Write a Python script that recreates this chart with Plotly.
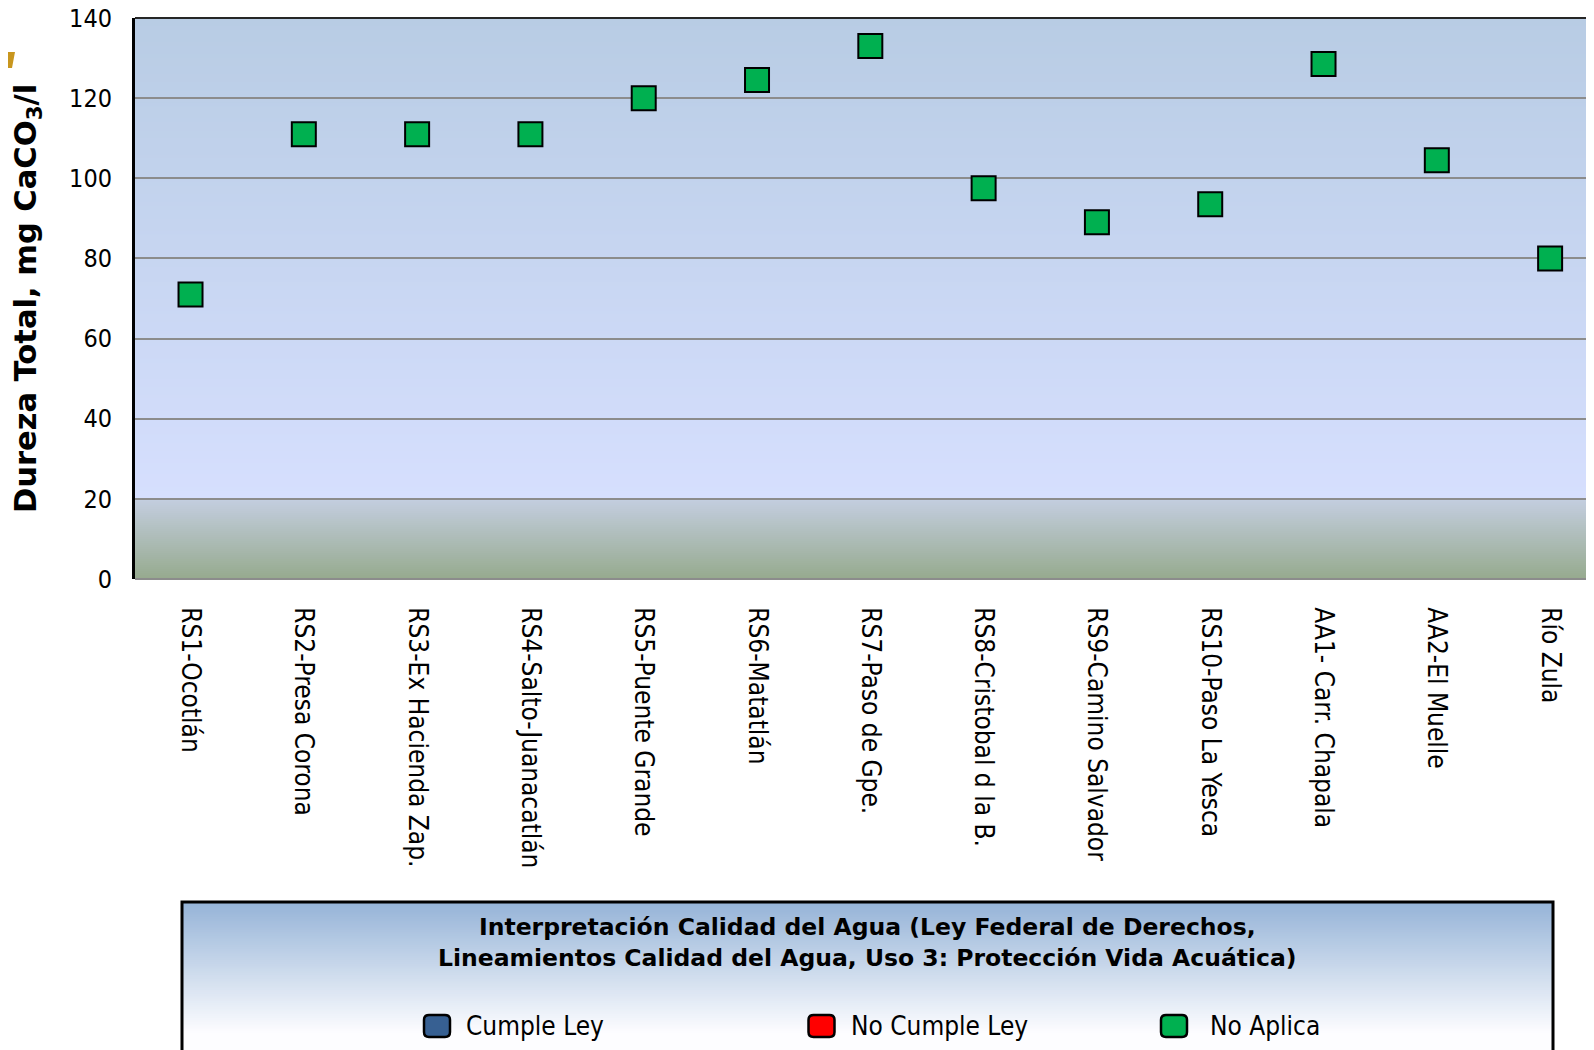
import plotly.graph_objects as go

categories = ["RS1-Ocotlán", "RS2-Presa Corona", "RS3-Ex Hacienda Zap.", "RS4-Salto-Juanacatlán",
              "RS5-Puente Grande", "RS6-Matatlán", "RS7-Paso de Gpe.", "RS8-Cristobal d la B.",
              "RS9-Camino Salvador", "RS10-Paso La Yesca", "AA1- Carr. Chapala", "AA2-El Muelle",
              "Río Zula"]
dureza = [71, 111, 111, 111, 120, 124.5, 133, 97.5, 89, 93.5, 128.5, 104.5, 80]
y_ticks = [0, 20, 40, 60, 80, 100, 120, 140]
legend_names = ["Cumple Ley", "No Cumple Ley", "No Aplica"]
legend_colors = ["#376092", "#ff0000", "#00b050"]

FONT = "DejaVu Sans Condensed, DejaVu Sans, sans-serif"
FONT_W = "DejaVu Sans, sans-serif"

W, H = 1586, 1042
L, T = 127, 10
bottom_px = 571
B = H - bottom_px
plot_h = bottom_px - T
plot_w = W - L
step_px = 113.3
x_lo = -0.49
x_hi = x_lo + plot_w / step_px


def py(fy):
    return (T + plot_h - fy) / plot_h


def px(fx):
    return (fx - L) / plot_w


def lerp(c1, c2, t):
    return tuple(round(a + (b - a) * t) for a, b in zip(c1, c2))


fig = go.Figure()
fig.add_trace(go.Scatter(x=categories, y=dureza, mode="markers", name="No Aplica",
                         showlegend=False,
                         marker=dict(symbol="square", size=24, color="#00b050",
                                     line=dict(color="black", width=2))))

shapes = []
# plot-area gradient
n1 = 120
top_c, mid_c = (184, 204, 228), (214, 223, 254)
d1 = 120 / n1
for i in range(n1):
    yt = 140 - i * d1
    yb = yt - d1
    c = lerp(top_c, mid_c, (i + 0.5) / n1)
    shapes.append(dict(type="rect", xref="paper", yref="y", x0=0, x1=1,
                       y0=max(20, yb - 0.4), y1=yt,
                       fillcolor="rgb(%d,%d,%d)" % c, line=dict(width=0), layer="below"))
n2 = 40
lo_top, lo_bot = (196, 206, 224), (150, 170, 142)
d2 = 20 / n2
for i in range(n2):
    yt = 20 - i * d2
    yb = yt - d2
    c = lerp(lo_top, lo_bot, (i + 0.5) / n2)
    shapes.append(dict(type="rect", xref="paper", yref="y", x0=0, x1=1,
                       y0=max(0, yb - 0.4), y1=yt,
                       fillcolor="rgb(%d,%d,%d)" % c, line=dict(width=0), layer="below"))

# top border of plot area
shapes.append(dict(type="line", xref="paper", yref="paper", x0=0, x1=1, y0=1, y1=1,
                   line=dict(color="#262626", width=2), layer="above"))

# partial gold logo at top-left edge
shapes.append(dict(type="path", xref="paper", yref="paper",
                   path="M %f %f L %f %f L %f %f L %f %f Z" % (px(-8), py(44), px(7), py(44),
                                                               px(4), py(60), px(-8), py(60)),
                   fillcolor="#c8961e", line=dict(width=0), layer="above"))

# interpretation box with gradient
bx0, bx1 = px(174), px(1545)
btop, bbot = 894, 1060
grad_end = 1025
ng = 70
for i in range(ng):
    p0 = btop + (grad_end - btop) * i / ng
    p1 = btop + (grad_end - btop) * (i + 1) / ng
    c = lerp((149, 179, 215), (253, 253, 255), (i + 0.5) / ng)
    shapes.append(dict(type="rect", xref="paper", yref="paper", x0=bx0, x1=bx1,
                       y0=py(p1 + 0.8), y1=py(p0), fillcolor="rgb(%d,%d,%d)" % c,
                       line=dict(width=0), layer="below"))
shapes.append(dict(type="rect", xref="paper", yref="paper", x0=bx0, x1=bx1,
                   y0=py(bbot), y1=py(grad_end), fillcolor="rgb(253,253,255)",
                   line=dict(width=0), layer="below"))
shapes.append(dict(type="rect", xref="paper", yref="paper", x0=bx0, x1=bx1,
                   y0=py(bbot), y1=py(btop), fillcolor="rgba(0,0,0,0)",
                   line=dict(color="black", width=3), layer="above"))


def rounded_rect(cx, cy, w, h, r):
    x0, x1, y0, y1 = cx - w / 2, cx + w / 2, cy - h / 2, cy + h / 2
    pts = [
        ("M", (x0 + r, y0)), ("L", (x1 - r, y0)), ("Q", (x1, y0, x1, y0 + r)),
        ("L", (x1, y1 - r)), ("Q", (x1, y1, x1 - r, y1)), ("L", (x0 + r, y1)),
        ("Q", (x0, y1, x0, y1 - r)), ("L", (x0, y0 + r)), ("Q", (x0, y0, x0 + r, y0)),
    ]
    parts = []
    for cmd, vals in pts:
        coords = []
        for k in range(0, len(vals), 2):
            coords.append("%f,%f" % (px(vals[k]), py(vals[k + 1])))
        parts.append(cmd + " " + " ".join(coords))
    return " ".join(parts) + " Z"


annotations = [
    dict(xref="paper", yref="paper", x=px(859), y=py(934.5), xanchor="center", yanchor="middle",
         text="<b>Interpretación Calidad del Agua (Ley Federal de Derechos,<br>"
              "Lineamientos Calidad del Agua, Uso 3: Protección Vida Acuática)</b>",
         showarrow=False, align="center", font=dict(family=FONT_W, size=23.5, color="black")),
]

leg_marker_x = [429, 813.5, 1166]
leg_text_x = [455.6, 841, 1200]
leg_y = 1018
for name, col, mx, tx in zip(legend_names, legend_colors, leg_marker_x, leg_text_x):
    shapes.append(dict(type="path", xref="paper", yref="paper", path=rounded_rect(mx, leg_y, 26, 22, 5),
                       fillcolor=col, line=dict(color="black", width=2.5), layer="above"))
    annotations.append(dict(xref="paper", yref="paper", x=px(tx), y=py(leg_y), xanchor="left",
                            yanchor="middle", text=name, showarrow=False,
                            font=dict(family=FONT, size=26, color="black")))

fig.update_layout(
    width=W, height=H,
    margin=dict(l=L, r=0, t=T, b=B, autoexpand=False),
    paper_bgcolor="white", plot_bgcolor="white",
    font=dict(family=FONT, size=25, color="black"),
    showlegend=False,
    shapes=shapes,
    annotations=annotations,
    xaxis=dict(type="category", categoryorder="array", categoryarray=categories,
               range=[x_lo, x_hi], showgrid=False, zeroline=False, showline=False,
               tickangle=90, ticks="outside", ticklen=22, tickcolor="rgba(0,0,0,0)",
               tickfont=dict(family=FONT, size=26, color="black")),
    yaxis=dict(range=[0, 140], tickvals=y_ticks, showgrid=True, gridcolor="#8c8c8c", gridwidth=2,
               zeroline=True, zerolinecolor="#8c8c8c", zerolinewidth=2,
               showline=True, linecolor="black", linewidth=3,
               ticks="outside", ticklen=15, tickcolor="rgba(0,0,0,0)",
               ticklabeloverflow="allow",
               tickfont=dict(family=FONT, size=25, color="black"),
               title=dict(text="<b>Dureza Total, mg CaCO<sub>3</sub>/l</b>", standoff=28,
                          font=dict(family=FONT_W, size=30.5, color="black"))),
)

fig.write_html("out.html")
